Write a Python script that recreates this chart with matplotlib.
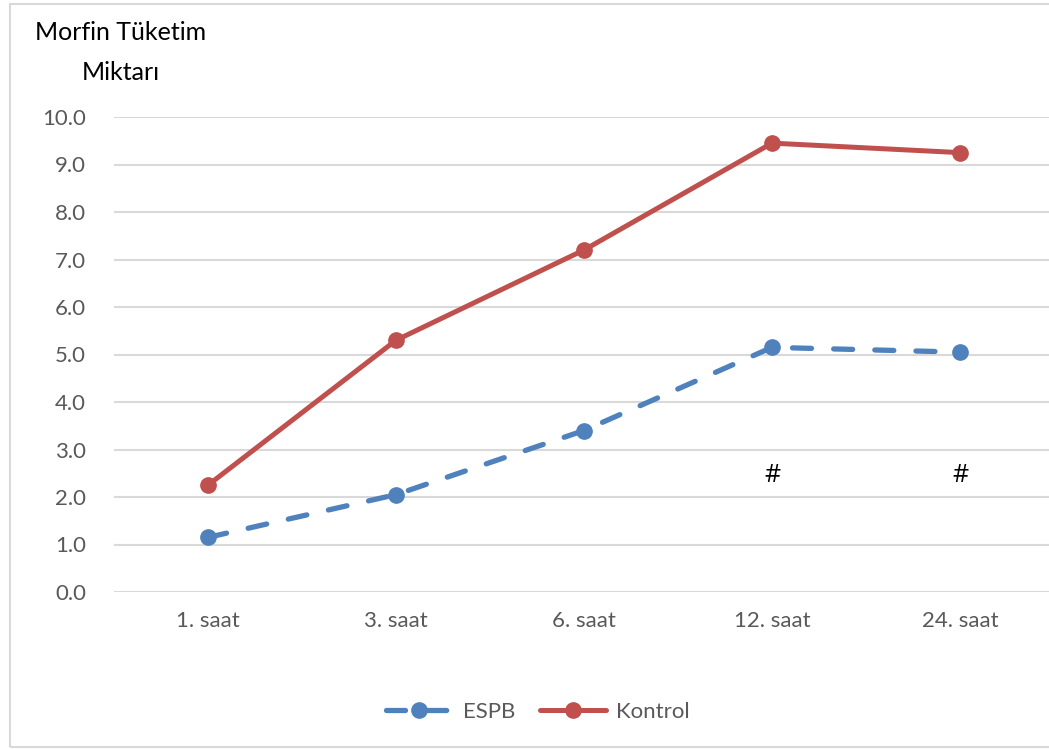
import matplotlib.pyplot as plt
import matplotlib.patches as mpatches

plt.rcParams['font.family'] = ['Lato', 'DejaVu Sans']

# Morphine consumption per time point
hours = ['1. saat', '3. saat', '6. saat', '12. saat', '24. saat']
espb = [1.15, 2.05, 3.4, 5.15, 5.05]
kontrol = [2.25, 5.3, 7.2, 9.45, 9.25]

# significance marks (#) shown at these time points
sig_idx = [3, 4]
sig_level = 2.45

blue = '#4F81BD'
red = '#C0504D'
grid_col = '#D9D9D9'
text_col = '#595959'

fig = plt.figure(figsize=(10.49, 7.49), dpi=100)

# outer chart frame
fig.patches.append(mpatches.Rectangle((10 / 1049, 2 / 749), 1.2, 743 / 749,
                                      transform=fig.transFigure, fill=False,
                                      edgecolor=grid_col, linewidth=1.5))

ax = fig.add_axes([114 / 1049, 157 / 749, 940 / 1049, 475 / 749])
x = list(range(len(hours)))

ax.plot(x, espb, color=blue, linewidth=3.8, linestyle=(0, (3.6, 4.2)),
        dash_capstyle='round', marker='o', markersize=11, label='ESPB', zorder=3)
ax.plot(x, kontrol, color=red, linewidth=3.6, solid_capstyle='round',
        marker='o', markersize=11, label='Kontrol', zorder=3)

for i in sig_idx:
    ax.text(x[i], sig_level, '#', ha='center', va='center', fontsize=18,
            color='black', family=['Open Sans', 'DejaVu Sans'])

ax.set_xlim(-0.5, len(hours) - 0.5)
ax.set_ylim(0, 10)
ax.set_yticks([i for i in range(11)])
ax.set_yticklabels([f'{i:.1f}' for i in range(11)])
ax.set_xticks(x)
ax.set_xticklabels(hours)
ax.tick_params(axis='both', length=0, labelsize=16, colors=text_col)
ax.tick_params(axis='y', pad=20)
ax.tick_params(axis='x', pad=14)
ax.grid(axis='y', color=grid_col, linewidth=1.5)
ax.set_axisbelow(True)
for s in ax.spines.values():
    s.set_visible(False)

fig.text(121 / 1049, 1 - 33 / 749, 'Morfin Tüketim', ha='center', va='center',
         fontsize=18, color='black')
fig.text(121 / 1049, 1 - 73 / 749, 'Miktarı', ha='center', va='center',
         fontsize=18, color='black')

fig.legend(loc='center', bbox_to_anchor=(538 / 1049, 1 - 712 / 749), ncol=2,
           frameon=False, fontsize=16, labelcolor=text_col, handlelength=3.0,
           columnspacing=1.1, handletextpad=0.45)

fig.savefig('out.png', dpi=100)
